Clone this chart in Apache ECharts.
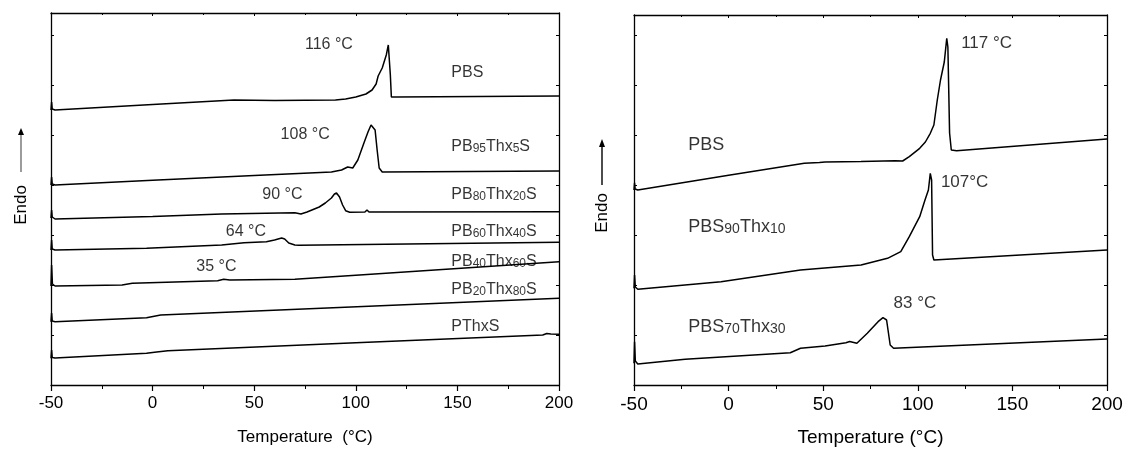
<!DOCTYPE html>
<html>
<head>
<meta charset="utf-8">
<script src="https://cdn.jsdelivr.net/npm/echarts@6/dist/echarts.min.js"></script>
<style>
html,body{margin:0;padding:0;background:#fff;}
#c{width:1130px;height:449px;}
</style>
</head>
<body>
<div id="c"></div>
<script>
// ---- data (temperature °C, heat flow in arbitrary offset units) ----
const xTicks = [-50, 0, 50, 100, 150, 200];

const leftPBS = [[-50,275],[-49.7,283],[-49.4,276],[-48,275],[0,280.5],[40,285],[60,284.5],[90,285],[95,286],[100,288],[105,291],[108,295],[110,301],[111,309],[113,317],[115,330],[116,340],[117,310],[117.5,288],[120,288],[200,289]];
const leftPB95 = [[-50,200],[-49.7,208],[-49.4,201],[-48,200],[0,204.7],[50,209.4],[88,213],[93,215],[96,218],[98.5,217],[101,225],[104,242],[106,253],[107.5,260],[108.4,262],[109.5,255],[110.5,235],[111.5,217],[113,213],[200,214]];
const leftPB80 = [[-50,167],[-49.7,175],[-49.4,168],[-48,166],[0,168.5],[34,171],[70,172.3],[73,171],[76,173],[82,178],[85,182],[88,187],[89.5,191],[90.5,192],[92,188],[93.5,180],[95,174.3],[97,172.7],[104.5,173],[105.5,175],[106.5,173],[200,173.3]];
const leftPB60 = [[-50,135],[-49.7,145],[-49.4,136],[-48,135],[-3,136.7],[34,140],[45,142.3],[56,143.3],[60,145],[63.5,147],[65,146],[67,142],[70,140],[72,139.7],[200,142.7]];
const leftPB40 = [[-50,99],[-49.7,120],[-49.3,101],[-48,99],[-15,100],[-10,101.7],[32,104.3],[35,105.7],[38,105],[70,105.7],[100,109.8],[150,116.5],[200,123.3]];
const leftPB20 = [[-50,63.3],[-49.7,72],[-49.4,64],[-48,63.3],[-3,67.3],[4,70],[200,86.7]];
const leftPThxS = [[-50,26.7],[-49.7,35],[-49.4,27.5],[-48,27],[-3,31.7],[2,33],[7.5,34.3],[100,42.2],[192,50],[194,51.5],[196,51],[200,50.7]];

const rightPBS = [[-50,195],[-49.7,202.3],[-49.4,196],[-48,195],[0,209.8],[40,221.7],[48,222.5],[49,221],[51,223],[70,223.5],[88,224.3],[92,224],[95.5,228.3],[101,236.7],[104,243],[106.6,251.7],[108.5,260],[110.3,285],[112,305],[114,323],[115.3,346.7],[115.9,338],[116.8,252],[117.7,235],[120.5,234.3],[200,246]];
const rightPBS90 = [[-50,96.7],[-49.7,110],[-49.3,98],[-48,95.7],[-4,103.3],[38,115],[70,120],[84,126.7],[91,133.3],[95.5,148.3],[101,168.3],[103.8,185],[105.6,195],[106.6,211.7],[107.3,205],[107.8,130],[108.5,125],[109.5,124.3],[200,135]];
const rightPBS70 = [[-50,21.7],[-49.7,43.3],[-49.3,24],[-48,21],[-23,25.7],[32.6,32.3],[38,36.7],[51,39],[62,42.3],[64,43.5],[67.8,41.7],[73.3,51.7],[79,63.3],[81.6,67.3],[83.5,65],[85.4,40],[87.2,36.7],[200,46]];

// annotation texts anchored (left edge, vertical middle) in data units
const leftLabels = [
  ['116 °C', 75, 340], ['PBS', 147, 312],
  ['108 °C', 63, 250], ['PB{s|95}Thx{s|5}S', 147, 238],
  ['90 °C', 54, 190], ['PB{s|80}Thx{s|20}S', 147, 190],
  ['64 °C', 36, 153], ['PB{s|60}Thx{s|40}S', 147, 153],
  ['35 °C', 21.5, 118], ['PB{s|40}Thx{s|60}S', 147, 123],
  ['PB{s|20}Thx{s|80}S', 147, 95],
  ['PThxS', 147, 58]
];
const rightPeakLabels = [
  ['117 °C', 122.9, 342], ['107°C', 112.2, 203], ['83 °C', 87.2, 82]
];
const rightNameLabels = [
  ['PBS', -21.3, 240], ['PBS{s|90}Thx{s|10}', -21.3, 158], ['PBS{s|70}Thx{s|30}', -21.3, 58]
];

const FONT = 'Liberation Sans, Arial, sans-serif';
const chart = echarts.init(document.getElementById('c'), null, {renderer: 'canvas'});

function xAxes(gi, fs, title, tfs, margin, gap) {
  return [
    {gridIndex: gi, type: 'value', min: -50, max: 200, interval: 50, position: 'bottom',
     name: title, nameLocation: 'middle', nameGap: gap,
     nameTextStyle: {color: '#000', fontSize: tfs, fontFamily: FONT},
     axisLine: {show: true, onZero: false, lineStyle: {color: '#000', width: 1.3}},
     axisTick: {show: true, inside: false, length: 6, lineStyle: {color: '#000', width: 1.2}},
     minorTick: {show: true, splitNumber: 2, length: 4, lineStyle: {color: '#000', width: 1}},
     splitLine: {show: false}, minorSplitLine: {show: false},
     axisLabel: {color: '#000', fontSize: fs, fontFamily: FONT, margin: margin,
       formatter: v => xTicks.indexOf(v) >= 0 ? String(v) : ''}},
    {gridIndex: gi, type: 'value', min: -50, max: 200, interval: 50, position: 'top',
     axisLine: {show: true, onZero: false, lineStyle: {color: '#000', width: 1.3}},
     axisTick: {show: true, inside: true, length: 3, lineStyle: {color: '#000', width: 1}},
     minorTick: {show: true, splitNumber: 2, length: 2, lineStyle: {color: '#000', width: 1}},
     splitLine: {show: false}, axisLabel: {show: false}}
  ];
}
function yAxes(gi, max) {
  return [
    {gridIndex: gi, type: 'value', min: 0, max: max, interval: 50, position: 'left',
     axisLine: {show: true, onZero: false, lineStyle: {color: '#000', width: 1.3}},
     axisTick: {show: true, inside: true, length: 3, lineStyle: {color: '#000', width: 1}},
     splitLine: {show: false}, axisLabel: {show: false}},
    {gridIndex: gi, type: 'value', min: 0, max: max, interval: 50, position: 'right',
     axisLine: {show: true, onZero: false, lineStyle: {color: '#000', width: 1.3}},
     axisTick: {show: true, inside: true, length: 3, lineStyle: {color: '#000', width: 1}},
     splitLine: {show: false}, axisLabel: {show: false}}
  ];
}
function curve(data, xi, yi) {
  return {type: 'line', xAxisIndex: xi, yAxisIndex: yi, data: data, symbol: 'none',
    smooth: false, silent: true, animation: false,
    lineStyle: {color: '#000', width: 1.5}};
}
function labelSeries(list, xi, yi, fs, sfs) {
  return {type: 'scatter', xAxisIndex: xi, yAxisIndex: yi, symbolSize: 0, silent: true, animation: false,
    data: list.map(l => ({value: [l[1], l[2]], name: l[0]})),
    label: {show: true, position: [0, 0], align: 'left', verticalAlign: 'middle',
      formatter: p => p.name, color: '#000', fontSize: fs, fontFamily: FONT,
      rich: {s: {fontSize: sfs, fontFamily: FONT, color: '#000', verticalAlign: 'bottom'}}}};
}

const option = {
  backgroundColor: '#fff',
  animation: false,
  grid: [
    {left: 51, right: 571, top: 13, bottom: 64, containLabel: false, outerBoundsMode: 'none'},
    {left: 634, right: 23, top: 15, bottom: 64, containLabel: false, outerBoundsMode: 'none'}
  ],
  xAxis: [].concat(xAxes(0, 17, 'Temperature  (°C)', 17, 10, 44), xAxes(1, 19, 'Temperature (°C)', 19, 10, 43)),
  yAxis: [].concat(yAxes(0, 372), yAxes(1, 370)),
  series: [
    curve(leftPBS, 0, 0), curve(leftPB95, 0, 0), curve(leftPB80, 0, 0), curve(leftPB60, 0, 0),
    curve(leftPB40, 0, 0), curve(leftPB20, 0, 0), curve(leftPThxS, 0, 0),
    curve(rightPBS, 2, 2), curve(rightPBS90, 2, 2), curve(rightPBS70, 2, 2),
    labelSeries(leftLabels, 0, 0, 16, 12),
    labelSeries(rightPeakLabels, 2, 2, 17, 13),
    labelSeries(rightNameLabels, 2, 2, 18, 14)
  ],
  graphic: [
    {type: 'line', shape: {x1: 21, y1: 172, x2: 21, y2: 134}, style: {stroke: '#666', lineWidth: 1.3}},
    {type: 'polygon', shape: {points: [[18, 135], [24, 135], [21, 128]]}, style: {fill: '#000'}},
    {type: 'text', x: 21, y: 205, rotation: Math.PI / 2,
     style: {text: 'Endo', fill: '#000', font: '17px ' + FONT, align: 'center', verticalAlign: 'middle'}},
    {type: 'line', shape: {x1: 602, y1: 185, x2: 602, y2: 146}, style: {stroke: '#000', lineWidth: 1.4}},
    {type: 'polygon', shape: {points: [[599, 147], [605, 147], [602, 139]]}, style: {fill: '#000'}},
    {type: 'text', x: 602, y: 213, rotation: Math.PI / 2,
     style: {text: 'Endo', fill: '#000', font: '17px ' + FONT, align: 'center', verticalAlign: 'middle'}}
  ]
};
chart.setOption(option);
</script>
</body>
</html>
